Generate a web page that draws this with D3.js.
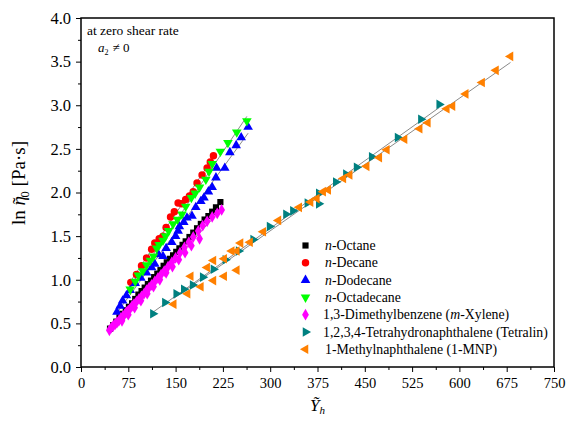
<!DOCTYPE html>
<html>
<head>
<meta charset="utf-8">
<script src="https://cdn.jsdelivr.net/npm/d3@7"></script>
<style>
  body { margin: 0; background: #fff; }
  svg text { font-family: "Liberation Serif", "Times New Roman", serif; fill: #000; }
</style>
</head>
<body>
<div id="chart"></div>
<script>
// x = reduced Y_h, y = ln(eta0)
const octane = [[46,0.44],[51,0.48],[56,0.52],[61,0.57],[66,0.61],[71,0.65],[76,0.69],[81,0.73],[86,0.78],[91,0.83],[96,0.87],[101,0.91],[106,0.95],[111,0.99],[116,1.03],[121,1.07],[126,1.11],[131,1.16],[136,1.20],[141,1.24],[146,1.28],[151,1.32],[156,1.36],[161,1.40],[166,1.44],[172,1.49],[178,1.54],[184,1.59],[190,1.64],[196,1.69],[202,1.73],[208,1.78],[214,1.83],[221,1.89]];
const decane = [[79,0.97],[88,1.06],[96,1.16],[104,1.25],[112,1.35],[117,1.42],[124,1.47],[130,1.50],[135,1.60],[142,1.72],[148,1.78],[154,1.88],[160,1.87],[166,1.92],[172,1.96],[178,2.01],[184,2.11],[192,2.20],[200,2.28],[205,2.35],[210,2.42]];
const dodecane = [[57,0.63],[62,0.70],[66,0.76],[72,0.82],[78,0.88],[86,0.96],[95,1.02],[104,1.08],[112,1.14],[117,1.18],[123,1.29],[130,1.27],[135,1.36],[144,1.43],[150,1.50],[154,1.56],[156,1.61],[163,1.66],[168,1.71],[176,1.73],[182,1.83],[190,1.90],[195,1.94],[202,2.01],[208,2.06],[214,2.17],[215,2.28],[228,2.28],[236,2.46],[246,2.54],[254,2.63],[265,2.75]];
const octadecane = [[78,0.89],[86,0.98],[91,1.05],[98,1.10],[104,1.17],[110,1.22],[115,1.27],[120,1.36],[124,1.40],[130,1.45],[134,1.50],[139,1.56],[146,1.64],[153,1.69],[160,1.75],[166,1.84],[175,1.94],[181,1.99],[188,2.06],[198,2.15],[203,2.24],[208,2.33],[221,2.47],[233,2.57],[247,2.69],[263,2.82]];
const xylene = [[45,0.42],[48,0.45],[51,0.47],[54,0.49],[57,0.51],[60,0.53],[63,0.56],[66,0.58],[69,0.60],[72,0.63],[75,0.65],[78,0.67],[81,0.70],[84,0.72],[88,0.75],[92,0.78],[96,0.81],[100,0.84],[104,0.88],[108,0.91],[112,0.94],[117,0.98],[122,1.02],[127,1.06],[132,1.10],[138,1.15],[144,1.20],[150,1.25],[157,1.31],[164,1.37],[171,1.43],[178,1.49],[186,1.56],[193,1.62],[200,1.67],[208,1.72],[216,1.76],[223,1.80],
  [65,0.53],[75,0.60],[85,0.68],[95,0.76],[105,0.84],[115,0.92],[125,1.00],[135,1.08],[145,1.15],[155,1.23],[165,1.31],[175,1.39],[188,1.47]];
const tetralin = [[114,0.61],[133,0.74],[151,0.84],[163,0.89],[177,0.94],[193,1.03],[210,1.12],[229,1.23],[250,1.33],[273,1.46],[299,1.61],[325,1.75],[336,1.79],[359,1.88],[377,1.99],[377,1.87],[404,2.12],[420,2.21],[437,2.29],[461,2.41],[502,2.63],[539,2.84],[568,3.01]];
const mnp = [[147,0.72],[169,0.84],[174,1.04],[190,0.92],[200,1.14],[210,0.99],[210,1.22],[227,1.04],[227,1.24],[239,1.33],[247,1.11],[247,1.33],[253,1.42],[268,1.43],[289,1.55],[313,1.68],[346,1.83],[364,1.89],[374,1.93],[384,2.01],[392,2.03],[416,2.16],[426,2.20],[453,2.30],[473,2.40],[485,2.49],[513,2.61],[537,2.73],[550,2.80],[580,2.96],[589,2.99],[610,3.13],[636,3.26],[658,3.40],[681,3.56]];

const xTicks = [0,75,150,225,300,375,450,525,600,675,750];
const yTicks = [0,0.5,1,1.5,2,2.5,3,3.5,4];

const series = [
  {name: [["n", true], ["-Octane", false]], data: octane, color: "#000000", shape: d3.symbolSquare, size: 38, rot: 0},
  {name: [["n", true], ["-Decane", false]], data: decane, color: "#ff0000", shape: d3.symbolCircle, size: 44, rot: 0},
  {name: [["n", true], ["-Dodecane", false]], data: dodecane, color: "#0000ff", shape: d3.symbolTriangle, size: 40, rot: 0},
  {name: [["n", true], ["-Octadecane", false]], data: octadecane, color: "#00ff00", shape: d3.symbolTriangle, size: 40, rot: 180},
  {name: [["1,3-Dimethylbenzene (", false], ["m", true], ["-Xylene)", false]], data: xylene, color: "#ff00ff", shape: d3.symbolDiamond, size: 40, rot: 0},
  {name: [["1,2,3,4-Tetrahydronaphthalene (Tetralin)", false]], data: tetralin, color: "#008080", shape: d3.symbolTriangle, size: 40, rot: 90},
  {name: [["1-Methylnaphthalene (1-MNP)", false]], data: mnp, color: "#ff8000", shape: d3.symbolTriangle, size: 40, rot: -90}
];

const width = 569, height = 424;
const margin = {top: 18, right: 15, bottom: 57, left: 81};

const svg = d3.select("#chart").append("svg")
  .attr("width", width).attr("height", height);

const x = d3.scaleLinear().domain([0, 750]).range([margin.left, width - margin.right]);
const y = d3.scaleLinear().domain([0, 4]).range([height - margin.bottom, margin.top]);

// least squares fit line for each series
function fit(data) {
  const mx = d3.mean(data, d => d[0]), my = d3.mean(data, d => d[1]);
  const b = d3.sum(data, d => (d[0] - mx) * (d[1] - my)) / d3.sum(data, d => (d[0] - mx) ** 2);
  const a = my - b * mx;
  const [x0, x1] = d3.extent(data, d => d[0]);
  return [[x0, a + b * x0], [x1, a + b * x1]];
}

svg.append("g").selectAll("line")
  .data(series)
  .join("line")
  .each(function(s) {
    const [p0, p1] = fit(s.data);
    d3.select(this)
      .attr("x1", x(p0[0])).attr("y1", y(p0[1]))
      .attr("x2", x(p1[0])).attr("y2", y(p1[1]));
  })
  .attr("stroke", "#8a8a8a")
  .attr("stroke-width", 1);

// markers
series.forEach(s => {
  svg.append("g").selectAll("path")
    .data(s.data)
    .join("path")
    .attr("d", d3.symbol(s.shape, s.size))
    .attr("transform", d => `translate(${x(d[0])},${y(d[1])}) rotate(${s.rot})`)
    .attr("fill", s.color);
});

// axes
const xAxis = svg.append("g")
  .attr("transform", `translate(0,${y(0)})`)
  .call(d3.axisBottom(x).tickValues(xTicks).tickSize(5).tickPadding(6).tickFormat(d3.format("d")));
svg.append("g")
  .attr("transform", `translate(0,${y(0)})`)
  .call(d3.axisBottom(x).tickValues(d3.range(37.5, 750, 75)).tickSize(3).tickFormat(""));

const yAxis = svg.append("g")
  .attr("transform", `translate(${x(0)},0)`)
  .call(d3.axisLeft(y).tickValues(yTicks).tickSize(5).tickPadding(5).tickFormat(d3.format(".1f")));
svg.append("g")
  .attr("transform", `translate(${x(0)},0)`)
  .call(d3.axisLeft(y).tickValues(d3.range(0.25, 4, 0.5)).tickSize(3).tickFormat(""));

svg.selectAll(".tick line").attr("stroke", "#000").attr("stroke-width", 1);
xAxis.selectAll("text").attr("font-family", null).style("font-size", "14.5px");
yAxis.selectAll("text").attr("font-family", null).style("font-size", "16.5px");
svg.selectAll(".domain").remove();

// frame
svg.append("rect")
  .attr("x", x(0)).attr("y", y(4))
  .attr("width", x(750) - x(0)).attr("height", y(0) - y(4))
  .attr("fill", "none").attr("stroke", "#000").attr("stroke-width", 1.5);

// axis titles
const yt = svg.append("text")
  .attr("transform", `translate(25,183) rotate(-90)`)
  .attr("text-anchor", "middle")
  .style("font-size", "19px");
yt.append("tspan").text("ln ");
yt.append("tspan").style("font-style", "italic").text("\u03b7");
yt.append("tspan").attr("dx", "-0.42em").attr("dy", "0.05em").text("\u02dc");
yt.append("tspan").attr("dx", "0.02em").attr("dy", "0.25em").style("font-size", "12.5px").text("0");
yt.append("tspan").attr("dy", "-0.2em").text(" [Pa\u00b7s]");

const xt = svg.append("text")
  .attr("x", (x(0) + x(750)) / 2).attr("y", 411)
  .attr("text-anchor", "middle")
  .style("font-size", "17px");
xt.append("tspan").style("font-style", "italic").text("\u1ef8");
xt.append("tspan").attr("dy", "0.3em").style("font-size", "11px").style("font-style", "italic").text("h");

// annotation
svg.append("text").attr("x", 87).attr("y", 35).style("font-size", "13.5px").text("at zero shear rate");
const an = svg.append("text").attr("x", 98).attr("y", 52).style("font-size", "13px");
an.append("tspan").style("font-style", "italic").text("a");
an.append("tspan").attr("dy", 3).style("font-size", "8px").text("2");
an.append("tspan").attr("dy", -3).attr("dx", 4).text("\u2260 0");

// legend
const legend = svg.append("g");
series.forEach((s, i) => {
  const ly = 245.5 + i * 17.3;
  legend.append("path")
    .attr("d", d3.symbol(s.shape, s.size))
    .attr("transform", `translate(305.5,${ly}) rotate(${s.rot})`)
    .attr("fill", s.color);
  const t = legend.append("text")
    .attr("x", i >= 4 && i <= 5 ? 323 : 325)
    .attr("y", ly + 4.5)
    .style("font-size", "13.8px");
  s.name.forEach(([txt, it]) => {
    t.append("tspan").style("font-style", it ? "italic" : "normal").text(txt);
  });
});
</script>
</body>
</html>
